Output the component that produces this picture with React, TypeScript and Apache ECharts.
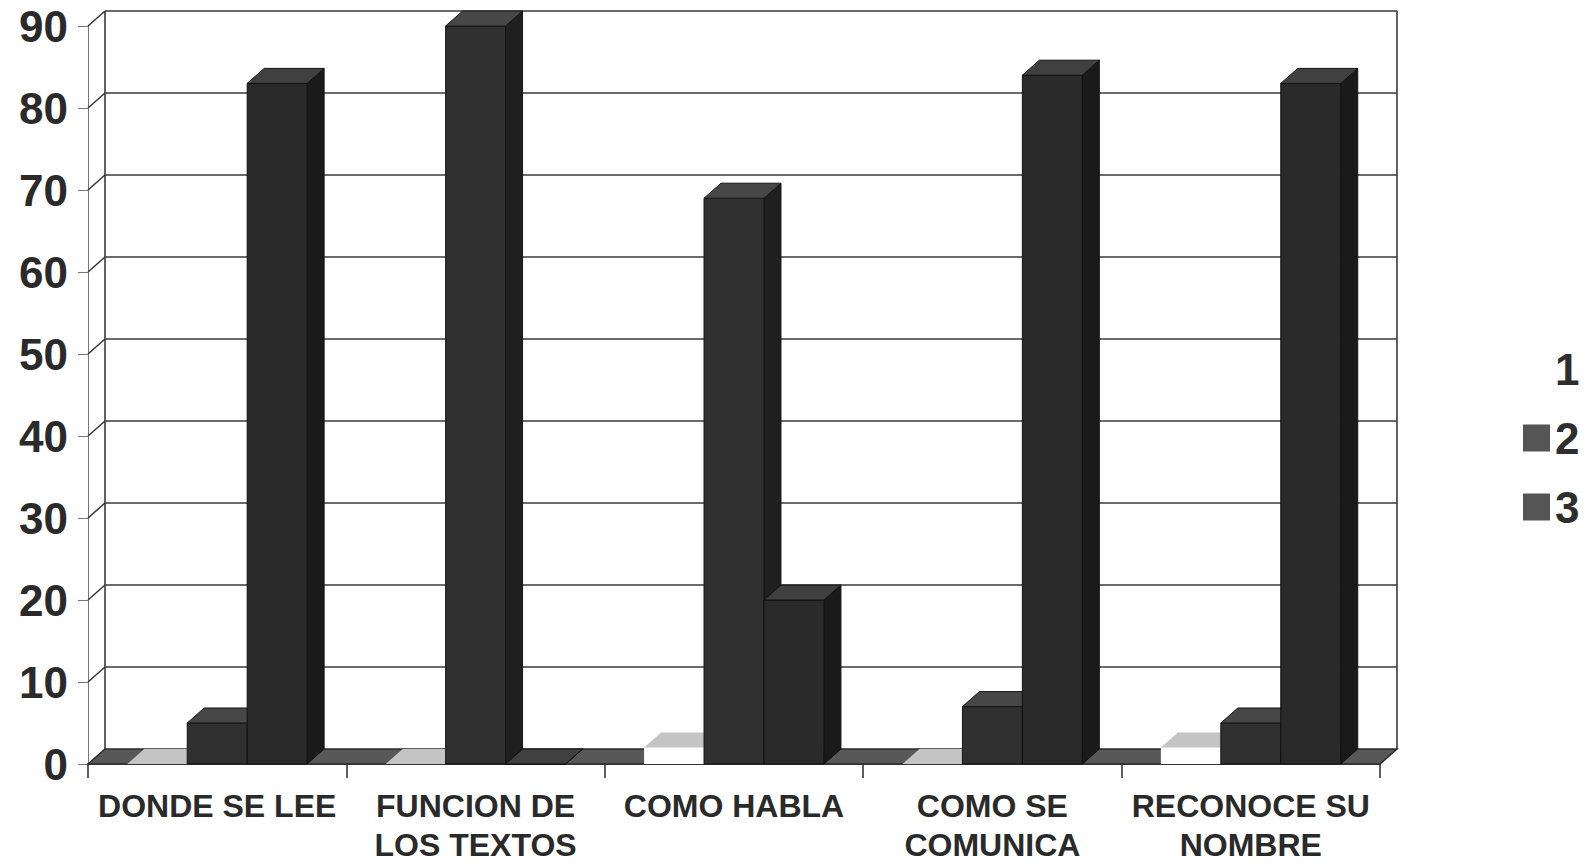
import React, { useEffect, useRef } from "react";
import * as echarts from "echarts";

const categories = [
  "DONDE SE LEE",
  "FUNCION DE\nLOS TEXTOS",
  "COMO HABLA",
  "COMO SE\nCOMUNICA",
  "RECONOCE SU\nNOMBRE",
];
const seriesNames = ["1", "2", "3"];
const series1 = [0, 0, 2, 0, 2];
const series2 = [5, 90, 69, 7, 5];
const series3 = [83, 0, 20, 84, 83];
const yTicks = [0, 10, 20, 30, 40, 50, 60, 70, 80, 90];

const DX = 17;
const DY = -15;
const BAR_RATIO = 0.232;

const barColors = [
  { front: "#ffffff", top: "#c4c4c4", side: "#e6e6e6", stroke: "none" },
  { front: "#303030", top: "#474747", side: "#1f1f1f", stroke: "#151515" },
  { front: "#2a2a2a", top: "#404040", side: "#1a1a1a", stroke: "#111111" },
];

function makeBarRender(si: number) {
  const c = barColors[si];
  return (params: any, api: any) => {
    const ci = api.value(0);
    const v = api.value(1);
    const base = api.coord([ci, 0]);
    const topP = api.coord([ci, v]);
    const band = api.size([1, 0])[0];
    const w = band * BAR_RATIO;
    const x = base[0] + (si - 1.5) * w;
    const yb = base[1];
    const yt = topP[1];
    const strokeStyle =
      c.stroke === "none" ? { stroke: null, lineWidth: 0 } : { stroke: c.stroke, lineWidth: 1 };
    return {
      type: "group",
      children: [
        {
          type: "polygon",
          shape: {
            points: [
              [x + w, yt],
              [x + w + DX, yt + DY],
              [x + w + DX, yb + DY],
              [x + w, yb],
            ],
          },
          style: { fill: c.side, ...strokeStyle },
        },
        {
          type: "rect",
          shape: { x, y: yt, width: w, height: Math.max(0, yb - yt) },
          style: { fill: c.front, ...strokeStyle },
        },
        {
          type: "polygon",
          shape: {
            points: [
              [x, yt],
              [x + DX, yt + DY],
              [x + w + DX, yt + DY],
              [x + w, yt],
            ],
          },
          style: { fill: c.top, ...strokeStyle },
        },
      ],
    };
  };
}

function wallRender(params: any, api: any) {
  const cs = params.coordSys;
  const x0 = cs.x;
  const x1 = cs.x + cs.width;
  const v = api.value(1);
  const y = api.coord([0, v])[1];
  const y0 = api.coord([0, 0])[1];
  const yTop = cs.y;
  const lineStyle = { stroke: "#3a3a3a", lineWidth: 1.6 };
  const children: any[] = [];
  if (params.dataIndex === 0) {
    children.push({
      type: "line",
      shape: { x1: x0 + DX, y1: y0 + DY, x2: x0 + DX, y2: yTop + DY },
      style: lineStyle,
    });
    children.push({
      type: "line",
      shape: { x1: x1 + DX, y1: y0 + DY, x2: x1 + DX, y2: yTop + DY },
      style: lineStyle,
    });
    children.push({
      type: "polygon",
      shape: {
        points: [
          [x0, y0],
          [x0 + DX, y0 + DY],
          [x1 + DX, y0 + DY],
          [x1, y0],
        ],
      },
      style: { fill: "#585858", stroke: "#2a2a2a", lineWidth: 1.5 },
    });
  } else {
    children.push({
      type: "line",
      shape: { x1: x0 + DX, y1: y + DY, x2: x1 + DX, y2: y + DY },
      style: lineStyle,
    });
    children.push({
      type: "line",
      shape: { x1: x0, y1: y, x2: x0 + DX, y2: y + DY },
      style: lineStyle,
    });
  }
  return { type: "group", children };
}

export default function App() {
  const ref = useRef<HTMLDivElement>(null);
  useEffect(() => {
    if (!ref.current) return;
    const chart = echarts.init(ref.current, null, { renderer: "svg" });
    const font = "'Liberation Sans', Arial, sans-serif";
    const seriesData = [series1, series2, series3];
    chart.setOption({
      animation: false,
      backgroundColor: "#ffffff",
      grid: { left: 88, right: 214, top: 26, bottom: 98 },
      legend: {
        data: seriesNames,
        orient: "vertical",
        left: 1518,
        top: 342,
        itemWidth: 27,
        itemHeight: 27,
        itemGap: 25,
        icon: "rect",
        textStyle: {
          fontSize: 44,
          lineHeight: 44,
          fontWeight: "bold",
          color: "#2e2e2e",
          fontFamily: font,
        },
      },
      xAxis: {
        type: "category",
        data: categories,
        axisLine: { show: true, lineStyle: { color: "#2a2a2a", width: 1.5 } },
        axisTick: { show: true, length: 14, lineStyle: { color: "#2a2a2a", width: 1.5 } },
        axisLabel: {
          fontSize: 32,
          fontWeight: "bold",
          color: "#2a2a2a",
          fontFamily: font,
          lineHeight: 39,
          margin: 22,
          interval: 0,
        },
        splitLine: { show: false },
      },
      yAxis: {
        type: "value",
        min: 0,
        max: 90,
        interval: 10,
        axisLine: { show: true, lineStyle: { color: "#777777", width: 1 } },
        axisTick: { show: true, length: 10, lineStyle: { color: "#777777", width: 1 } },
        axisLabel: {
          fontSize: 44,
          fontWeight: "bold",
          color: "#2a2a2a",
          fontFamily: font,
          margin: 20,
        },
        splitLine: { show: false },
      },
      series: [
        {
          type: "custom",
          name: "wall",
          renderItem: wallRender,
          data: yTicks.map((t) => [0, t]),
          encode: { x: 0, y: 1 },
          clip: false,
          silent: true,
          z: 1,
        },
        ...seriesNames.map((name, si) => ({
          type: "custom",
          name,
          renderItem: makeBarRender(si),
          data: seriesData[si].map((v, i) => [i, v]),
          encode: { x: 0, y: 1 },
          clip: false,
          itemStyle: { color: si === 0 ? "#ffffff" : "#555555" },
          z: 2 + si,
        })),
      ],
    });
    return () => chart.dispose();
  }, []);
  return (
    <div
      ref={ref}
      style={{ position: "fixed", left: 0, top: 0, width: 1594, height: 864, background: "#fff" }}
    />
  );
}
